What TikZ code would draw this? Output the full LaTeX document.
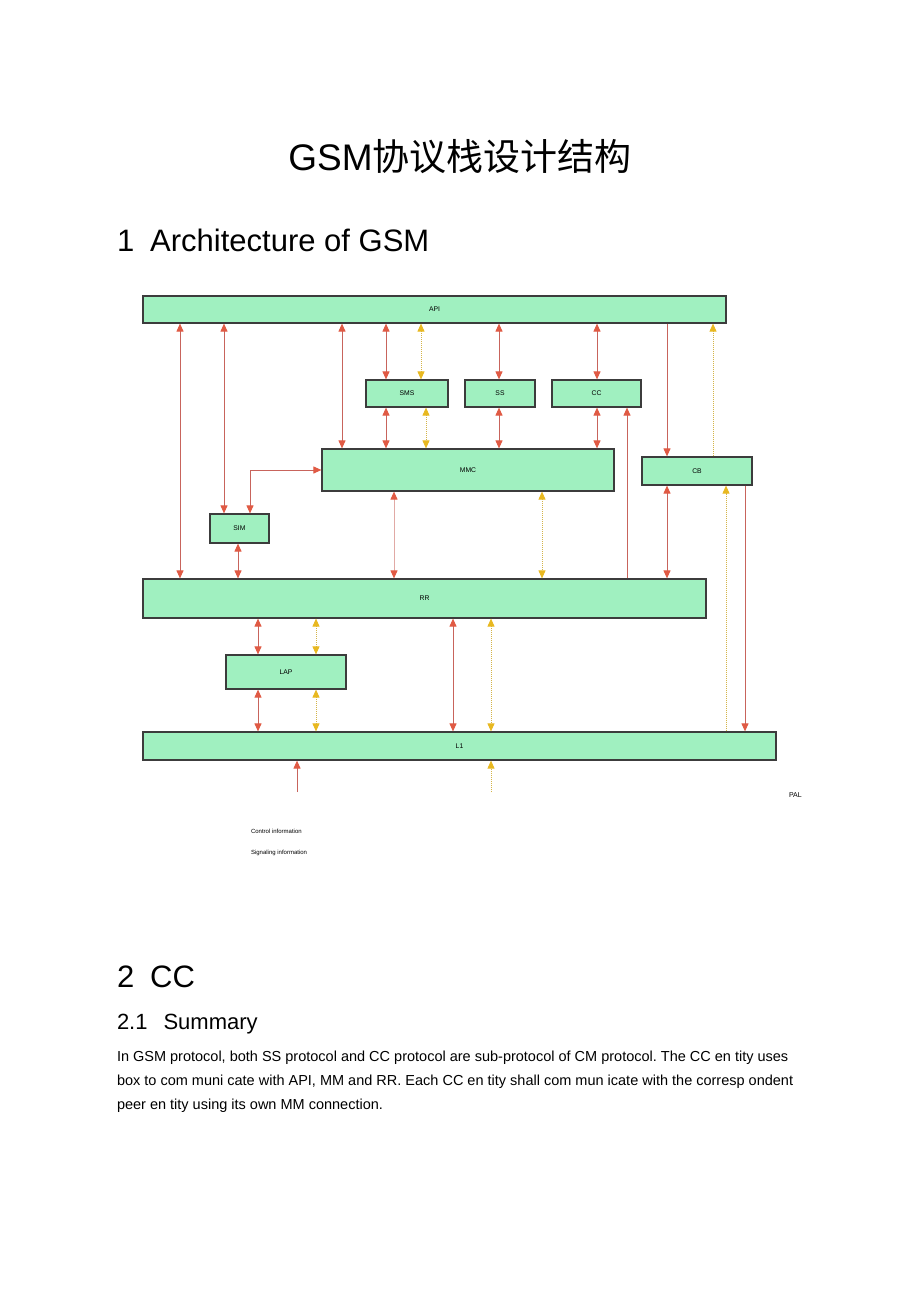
\documentclass[tikz,border=0pt]{standalone}
\usepackage{fontspec}
\setmainfont{Liberation Sans}
\newfontfamily\cjk{Noto Sans CJK SC}
\usetikzlibrary{arrows.meta}
\frenchspacing
\definecolor{boxfill}{HTML}{A0F0C0}
\definecolor{boxline}{HTML}{3C3C3C}
\definecolor{redline}{HTML}{C8645C}
\definecolor{redhead}{HTML}{E05A44}
\definecolor{yelline}{HTML}{D4B448}
\definecolor{yelhead}{HTML}{E8B820}
\tikzset{
  box/.style={draw=boxline, line width=1.2pt, fill=boxfill, inner sep=0pt,
    font=\fontsize{6.8}{7}\selectfont},
  rtip/.tip={Triangle[width=7pt,length=8pt,color=redhead,fill=redhead]},
  ytip/.tip={Triangle[width=7pt,length=8pt,color=yelhead,fill=yelhead]},
  ctl/.style={draw=redline, line width=1pt},
  ctlfaint/.style={draw=redline!55, line width=1pt},
  sig/.style={draw=yelline, line width=0.9pt, dash pattern=on 1pt off 1pt},
  txt/.style={inner sep=0pt, outer sep=0pt},
}
\begin{document}
\frenchspacing
\begin{tikzpicture}[x=1pt,y=-1pt]
\useasboundingbox (0,0) rectangle (920,1303);

% page text
\node[txt, anchor=base] (title) at (460,170) {\fontsize{37}{40}\selectfont GSM{\cjk 协议栈设计结构}};
\node[txt, anchor=base west] (sec1) at (117,251) {\fontsize{31}{34}\selectfont 1\hspace{16pt}Architecture of GSM};
\node[txt, anchor=base west] (sec2) at (117,987) {\fontsize{31}{34}\selectfont 2\hspace{16pt}CC};
\node[txt, anchor=base west] (sec21) at (117,1029) {\fontsize{22}{26}\selectfont 2.1\hspace{16pt}Summary};
\node[txt, anchor=base west] (p1) at (117,1061) {\fontsize{14.5}{17}\selectfont In GSM protocol, both SS protocol and CC protocol are sub-protocol of CM protocol. The CC en tity uses};
\node[txt, anchor=base west] (p2) at (117,1085) {\fontsize{14.5}{17}\selectfont box to com muni cate with API, MM and RR. Each CC en tity shall com mun icate with the corresp ondent};
\node[txt, anchor=base west] (p3) at (117,1109) {\fontsize{14.5}{17}\selectfont peer en tity using its own MM connection.};

% boxes
\node[box, minimum width=583pt, minimum height=27pt] (API) at (434.5,309.5) {API};
\node[box, minimum width=82pt, minimum height=27pt] (SMS) at (407,393.5) {SMS};
\node[box, minimum width=70pt, minimum height=27pt] (SS) at (500,393.5) {SS};
\node[box, minimum width=89pt, minimum height=27pt] (CC) at (596.5,393.5) {CC};
\node[box, minimum width=292pt, minimum height=42pt] (MMC) at (468,470) {MMC};
\node[box, minimum width=110pt, minimum height=28pt] (CB) at (697,471) {CB};
\node[box, minimum width=59pt, minimum height=29pt] (SIM) at (239.5,528.5) {SIM};
\node[box, minimum width=563pt, minimum height=39pt] (RR) at (424.5,598.5) {RR};
\node[box, minimum width=120pt, minimum height=34pt] (LAP) at (286,672) {LAP};
\node[box, minimum width=633pt, minimum height=28pt] (L1) at (459.5,746) {L1};

% legend
\node[txt, anchor=west, font=\fontsize{7}{8}\selectfont] (pal) at (789,795) {PAL};
\node[txt, anchor=west, font=\fontsize{6}{7}\selectfont] (lc) at (251,831) {Control information};
\node[txt, anchor=west, font=\fontsize{6}{7}\selectfont] (ls) at (251,853) {Signaling information};

% x positions
\foreach \x in {180,224,238,250,258,297,316,342,386,394,421,426,453,491,499,542,597,627,667,713,726,745}
  \coordinate (x\x) at (\x,0);
\coordinate (b297) at (297,792);
\coordinate (b491) at (491,792);

% control (red) connectors
\draw[ctl, arrows={rtip-rtip}] (API.south -| x180) -- (RR.north -| x180);
\draw[ctl, arrows={rtip-rtip}] (API.south -| x224) -- (SIM.north -| x224);
\draw[ctl, arrows={rtip-rtip}] (API.south -| x342) -- (MMC.north -| x342);
\draw[ctl, arrows={rtip-rtip}] (API.south -| x386) -- (SMS.north -| x386);
\draw[ctl, arrows={rtip-rtip}] (SMS.south -| x386) -- (MMC.north -| x386);
\draw[ctl, arrows={rtip-rtip}] (API.south -| x499) -- (SS.north -| x499);
\draw[ctl, arrows={rtip-rtip}] (SS.south -| x499) -- (MMC.north -| x499);
\draw[ctl, arrows={rtip-rtip}] (API.south -| x597) -- (CC.north -| x597);
\draw[ctl, arrows={rtip-rtip}] (CC.south -| x597) -- (MMC.north -| x597);
\draw[ctl, arrows={-rtip}] (RR.north -| x627) -- (CC.south -| x627);
\draw[ctl, arrows={-rtip}] (API.south -| x667) -- (CB.north -| x667);
\draw[ctl, arrows={rtip-rtip}] (SIM.north -| x250) |- (MMC.west);
\draw[ctlfaint, arrows={rtip-rtip}] (MMC.south -| x394) -- (RR.north -| x394);
\draw[ctl, arrows={rtip-rtip}] (CB.south -| x667) -- (RR.north -| x667);
\draw[ctl, arrows={rtip-rtip}] (SIM.south -| x238) -- (RR.north -| x238);
\draw[ctl, arrows={-rtip}] (CB.south -| x745) -- (L1.north -| x745);
\draw[ctl, arrows={rtip-rtip}] (RR.south -| x258) -- (LAP.north -| x258);
\draw[ctl, arrows={rtip-rtip}] (LAP.south -| x258) -- (L1.north -| x258);
\draw[ctl, arrows={rtip-rtip}] (RR.south -| x453) -- (L1.north -| x453);
\draw[ctl, arrows={-rtip}] (b297) -- (L1.south -| b297);

% signaling (yellow) connectors
\draw[sig, arrows={ytip-ytip}] (API.south -| x421) -- (SMS.north -| x421);
\draw[sig, arrows={ytip-ytip}] (SMS.south -| x426) -- (MMC.north -| x426);
\draw[sig, arrows={-ytip}] (CB.north -| x713) -- (API.south -| x713);
\draw[sig, arrows={ytip-ytip}] (MMC.south -| x542) -- (RR.north -| x542);
\draw[sig, arrows={-ytip}] (L1.north -| x726) -- (CB.south -| x726);
\draw[sig, arrows={ytip-ytip}] (RR.south -| x316) -- (LAP.north -| x316);
\draw[sig, arrows={ytip-ytip}] (LAP.south -| x316) -- (L1.north -| x316);
\draw[sig, arrows={ytip-ytip}] (RR.south -| x491) -- (L1.north -| x491);
\draw[sig, arrows={-ytip}] (b491) -- (L1.south -| b491);
\end{tikzpicture}
\end{document}
